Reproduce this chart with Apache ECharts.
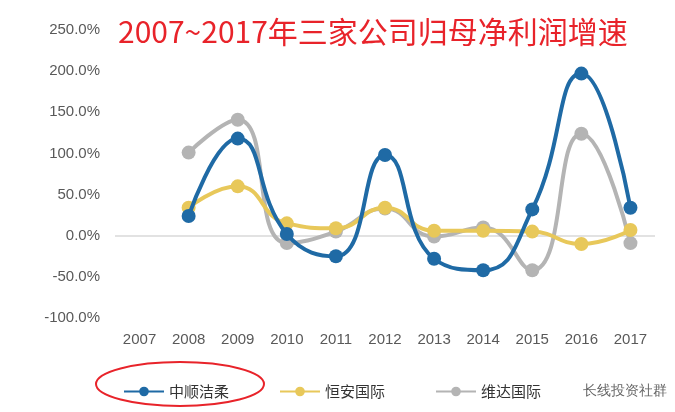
<!DOCTYPE html><html><head><meta charset="utf-8"><script src="https://cdn.jsdelivr.net/npm/echarts@6/dist/echarts.min.js"></script></head><body style="margin:0;background:#fff"><div id="c" style="width:675px;height:412px"></div><script>
const years=['2007','2008','2009','2010','2011','2012','2013','2014','2015','2016','2017'];
const zhongshun=[null,24,118,2,-25,98,-28,-42,32,197,34];
const hengan=[null,34,60,15,9,34,6,6,5,-10,7];
const weida=[null,101,141,-9,5,33,-1,10,-42,124,-9];
const names=['中顺洁柔','恒安国际','维达国际'];
const colors=['#1f6aa5','#e8c85a','#b4b4b4'];
const ch=echarts.init(document.getElementById('c'));
const mk=(n,d,c,i)=>({name:n,type:'line',data:d,smooth:0.5,symbol:'circle',symbolSize:14,z:10-i,
 lineStyle:{width:4,color:c},itemStyle:{color:c},
 markLine:i===0?{silent:true,symbol:'none',label:{show:false},lineStyle:{color:'#d9d9d9',type:'solid',width:1.5},data:[{yAxis:0}]}:undefined});
ch.setOption({animation:false,
 title:{text:'2007~2017年三家公司归母净利润增速',left:113,top:12,textStyle:{color:'#e8232a',fontSize:30,fontWeight:'normal',fontFamily:'Noto Sans CJK SC'}},
 grid:{left:115,right:20,top:30,bottom:94},
 legend:{bottom:8,left:118,itemWidth:40,itemHeight:12,itemGap:50,textStyle:{fontSize:15,color:'#333',fontFamily:'Noto Sans CJK SC'},data:names},
 xAxis:{type:'category',data:years,axisLine:{show:false},axisTick:{show:false},axisLabel:{color:'#595959',fontSize:15,margin:14,fontFamily:'Liberation Sans'}},
 yAxis:{type:'value',min:-100,max:250,interval:50,splitLine:{show:false},axisLabel:{color:'#595959',fontSize:15,margin:15,fontFamily:'Liberation Sans',formatter:v=>v.toFixed(1)+'%'}},
 graphic:[{type:'ellipse',shape:{cx:180,cy:384,rx:84,ry:22},style:{fill:'none',stroke:'#e8232a',lineWidth:2}},
  {type:'text',right:8,bottom:14,style:{text:'长线投资社群',fontSize:14,fill:'#666',font:'14px Noto Sans CJK SC'}}],
 series:[mk(names[0],zhongshun,colors[0],0),mk(names[1],hengan,colors[1],1),mk(names[2],weida,colors[2],2)]
});
</script></body></html>
